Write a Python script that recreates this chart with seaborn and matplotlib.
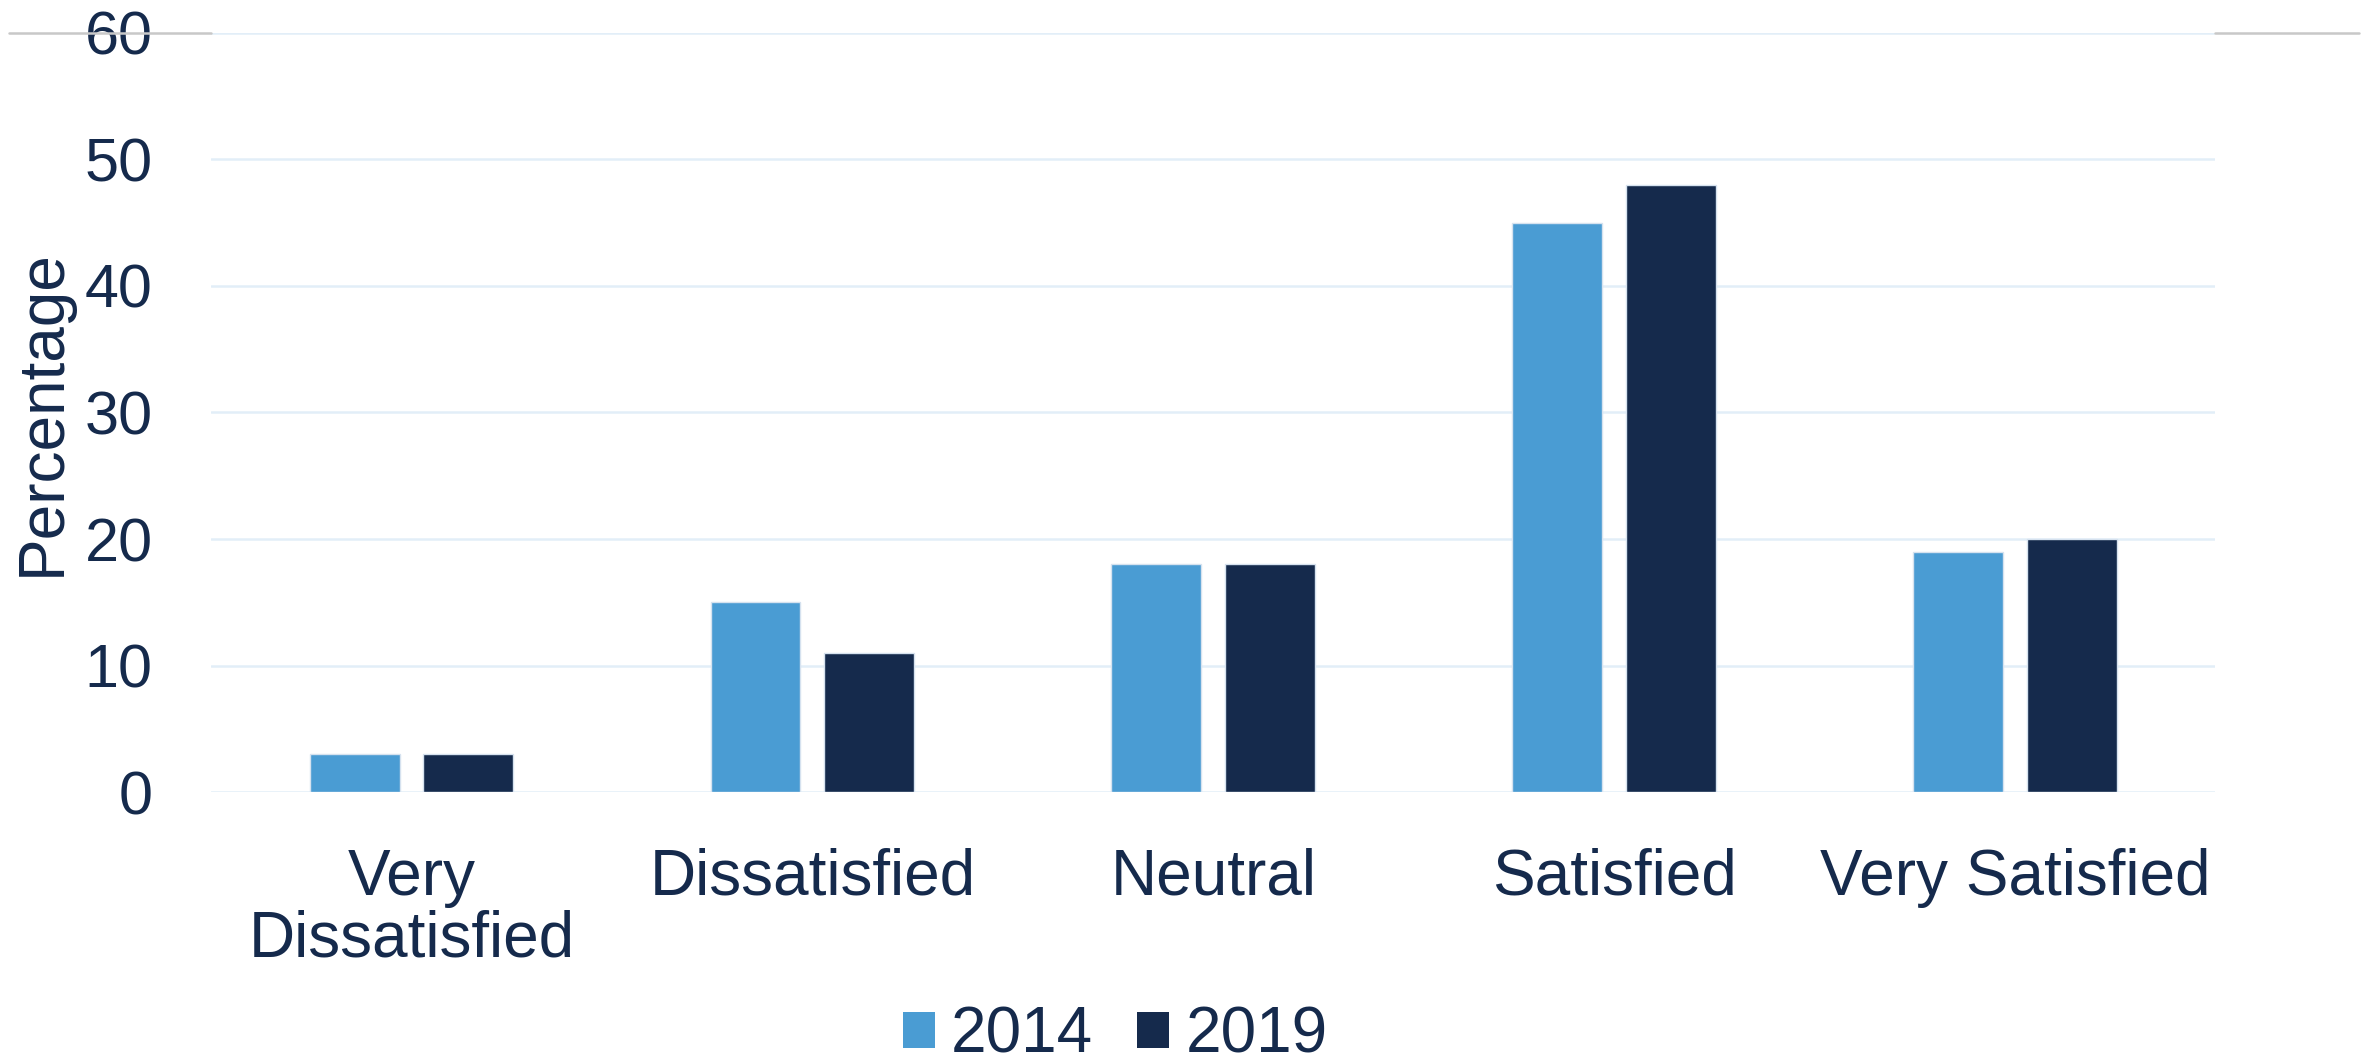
import matplotlib
matplotlib.use("Agg")
import matplotlib.pyplot as plt
from matplotlib.lines import Line2D
from matplotlib.patches import Patch
import seaborn as sns
import pandas as pd

categories = ["Very\nDissatisfied", "Dissatisfied", "Neutral", "Satisfied", "Very Satisfied"]
years = ["2014", "2019"]
values_2014 = [3, 15, 18, 45, 19]
values_2019 = [3, 11, 18, 48, 20]
y_ticks = [0, 10, 20, 30, 40, 50, 60]

colors = {"2014": "#4A9CD3", "2019": "#152A4C"}
text_color = "#152A4C"

df = pd.DataFrame({
    "category": categories * 2,
    "year": ["2014"] * len(categories) + ["2019"] * len(categories),
    "value": values_2014 + values_2019,
})

sns.set_theme(style="white")
plt.rcParams["font.family"] = ["Liberation Sans", "DejaVu Sans"]

fig = plt.figure(figsize=(11.845, 5.3), dpi=200)
ax = fig.add_axes([0.0891, 0.2528, 0.8461, 0.7161])

sns.barplot(data=df, x="category", y="value", hue="year", order=categories,
            hue_order=years, palette=colors, saturation=1, width=0.568, gap=0.21,
            edgecolor="#d6e2ef", linewidth=0.5, legend=False, ax=ax, zorder=3)

ax.set_xlim(-0.5, len(categories) - 0.5)
ax.set_ylim(0, 60)
ax.set_yticks(y_ticks)
ax.yaxis.grid(True, color="#E2EEF8", linewidth=0.9, zorder=0)
ax.xaxis.grid(False)
for s in ax.spines.values():
    s.set_visible(False)

ax.tick_params(axis="y", labelsize=22, labelcolor=text_color, pad=21, length=0)
ax.tick_params(axis="x", labelsize=23, labelcolor=text_color, pad=20, length=0)
for lbl in ax.get_xticklabels():
    lbl.set_linespacing(1.05)

ax.set_xlabel("")
ax.set_ylabel("Percentage", fontsize=23, color=text_color)
ax.yaxis.set_label_coords(-0.069, 0.5)

# thin grey rule extending beyond the plot at the top gridline
y_top = 0.9689
fig.add_artist(Line2D([0.0038, 0.0891], [y_top, y_top], color="#c8c8c8", linewidth=0.9))
fig.add_artist(Line2D([0.935, 0.9958], [y_top, y_top], color="#c8c8c8", linewidth=0.9))

handles = [Patch(facecolor=colors[y], edgecolor="none") for y in years]
fig.legend(handles, years, loc="center", bbox_to_anchor=(0.4707, 0.023), ncol=2,
           frameon=False, fontsize=23, labelcolor=text_color, handlelength=0.5,
           handleheight=0.5, handletextpad=0.25, columnspacing=0.7,
           borderpad=0.1)

fig.savefig("out.png", dpi=200)
